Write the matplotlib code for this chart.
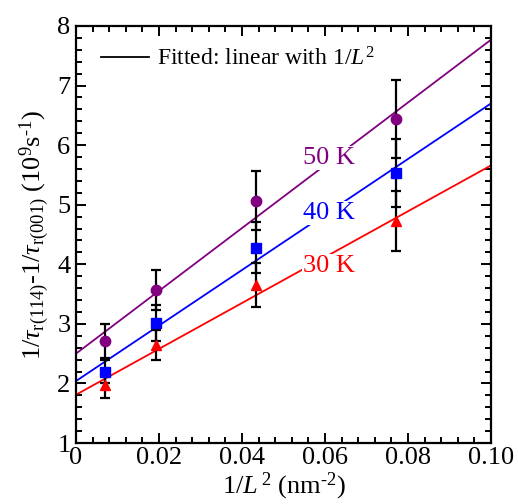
import matplotlib
matplotlib.use("Agg")
import matplotlib.pyplot as plt
from matplotlib.lines import Line2D
from matplotlib.ticker import MultipleLocator
import numpy as np

plt.rcParams['font.family'] = ['Liberation Serif', 'DejaVu Serif']
plt.rcParams['mathtext.fontset'] = 'custom'
plt.rcParams['mathtext.rm'] = 'Liberation Serif'
plt.rcParams['mathtext.it'] = 'Liberation Serif:italic'
plt.rcParams['mathtext.bf'] = 'Liberation Serif:bold'

# data
x = [0.0070, 0.0193, 0.0434, 0.0771]
y50 = [2.71, 3.57, 5.07, 6.44]
e50 = [0.28, 0.34, 0.50, 0.66]
y40 = [2.20, 3.02, 4.28, 5.53]
e40 = [0.20, 0.30, 0.43, 0.57]
y30 = [1.97, 2.65, 3.65, 4.73]
e30 = [0.22, 0.25, 0.37, 0.50]

fit_x = [0.0, 0.10]
fit50 = [2.50, 7.77]
fit40 = [2.04, 6.70]
fit30 = [1.81, 5.66]

xticks = [0, 0.02, 0.04, 0.06, 0.08, 0.10]
xticklabels = ['0', '0.02', '0.04', '0.06', '0.08', '0.10']

series = [
    ("50 K", y50, e50, fit50, "#800080", "o", 7.5, (0.061, 5.78)),
    ("40 K", y40, e40, fit40, "#0000ff", "s", 6.5, (0.061, 4.86)),
    ("30 K", y30, e30, fit30, "#ff0000", "^", 7.5, (0.061, 3.97)),
]

fig = plt.figure(figsize=(5.18, 5.04), dpi=100)
ax = fig.add_axes([76/518, 61/504, 415/518, 417/504])

for name, ys, es, fit, col, mk, ms, lpos in series:
    ax.plot(fit_x, fit, color=col, lw=1.3, zorder=2)
for name, ys, es, fit, col, mk, ms, lpos in series:
    ax.errorbar(x, ys, yerr=es, fmt='none', ecolor='black', elinewidth=1.6,
                capsize=3.8, capthick=1.6, zorder=3)
for name, ys, es, fit, col, mk, ms, lpos in series:
    ax.plot(x, ys, linestyle='none', marker=mk, color=col, ms=ms, zorder=4)
    ax.text(lpos[0], lpos[1], name, color=col, fontsize=19, ha='center', va='center',
            zorder=5, bbox=dict(facecolor='white', edgecolor='none', pad=0.5))

ax.set_xlim(0, 0.10)
ax.set_ylim(1, 8)
ax.xaxis.set_minor_locator(MultipleLocator(0.004))
ax.yaxis.set_major_locator(MultipleLocator(1))
ax.yaxis.set_minor_locator(MultipleLocator(0.2))
ax.set_xticks(xticks)
ax.set_xticklabels(xticklabels)
ax.tick_params(which='both', direction='in', top=True, right=True, labelsize=19, width=1.4)
ax.tick_params(which='major', length=7, pad=4)
ax.tick_params(axis='x', which='major', pad=3)
ax.tick_params(which='minor', length=4)
for s in ax.spines.values():
    s.set_linewidth(1.6)

ax.set_xlabel(r'1/$L^{\,2}$ (nm$^{\text{-}2}$)', fontsize=19, labelpad=1)
ax.set_ylabel(r'1/$\tau_{\mathrm{r}(114)}$-1/$\tau_{\mathrm{r}(001)}$ (10$^9$s$^{\text{-}1}$)',
              fontsize=19, labelpad=4)

h = Line2D([], [], color='black', lw=1.3)
ax.legend([h], [r'Fitted: linear with 1/$L^2$'], loc='upper left', frameon=False,
          fontsize=17, handlelength=2.0, handletextpad=0.35, bbox_to_anchor=(0.01, 1.0))

fig.savefig('out.png', dpi=100)
